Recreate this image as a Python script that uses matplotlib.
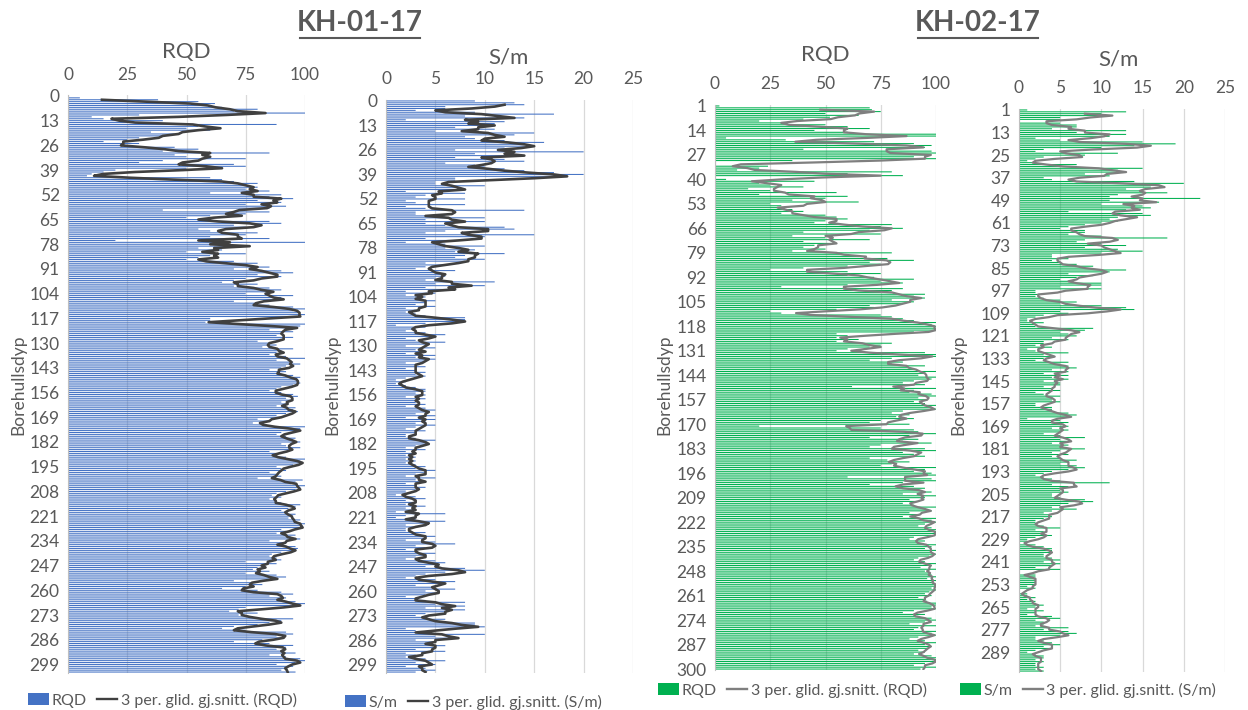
import numpy as np
import pandas as pd
import matplotlib
matplotlib.use("Agg")
import matplotlib.pyplot as plt
from matplotlib.patches import Patch
from matplotlib.lines import Line2D

plt.rcParams['font.family'] = ['Lato', 'DejaVu Sans']

# KH-01-17, depth 0..303
rqd_01 = [
    0, 5, 38, 55, 62, 60, 65, 80, 70, 100,
    30, 10, 15, 40, 30, 88, 55, 50, 60, 35,
    45, 40, 30, 25, 15, 30, 22, 45, 55, 40,
    85, 45, 50, 75, 40, 30, 70, 75, 50, 20,
    15, 10, 8, 60, 65, 70, 80, 75, 80, 75,
    85, 60, 90, 85, 95, 80, 90, 75, 92, 85,
    40, 85, 75, 60, 50, 55, 85, 90, 70, 75,
    55, 60, 80, 75, 60, 85, 20, 100, 60, 70,
    55, 65, 50, 75, 60, 55, 50, 70, 80, 75,
    85, 70, 90, 95, 80, 90, 75, 70, 65, 80,
    70, 85, 90, 85, 75, 95, 90, 88, 70, 80,
    85, 95, 100, 95, 98, 100, 96, 60, 60, 58,
    100, 98, 92, 85, 95, 90, 88, 95, 90, 80,
    85, 88, 82, 95, 90, 88, 85, 92, 100, 88,
    95, 98, 92, 90, 85, 92, 88, 95, 98, 96,
    97, 98, 95, 90, 88, 85, 90, 95, 97, 92,
    95, 90, 93, 88, 96, 95, 97, 92, 88, 90,
    80, 85, 78, 84, 100, 98, 96, 90, 88, 92,
    96, 95, 98, 90, 92, 98, 94, 85, 88, 86,
    92, 100, 98, 99, 95, 88, 90, 92, 85, 88,
    90, 80, 99, 96, 94, 100, 98, 96, 92, 88,
    86, 90, 85, 88, 90, 98, 96, 93, 90, 92,
    96, 95, 93, 98, 96, 100, 99, 98, 90, 92,
    88, 96, 94, 98, 85, 92, 88, 96, 97, 95,
    90, 86, 85, 88, 90, 75, 88, 82, 80, 78,
    85, 75, 88, 92, 85, 70, 78, 82, 75, 65,
    80, 90, 95, 85, 92, 88, 96, 100, 98, 75,
    72, 68, 80, 72, 78, 95, 90, 85, 80, 70,
    65, 75, 92, 95, 88, 90, 82, 70, 85, 95,
    92, 88, 90, 96, 85, 92, 98, 100, 96, 88,
    95, 92, 90, 96,
]

sm_01 = [
    9, 13, 14, 6, 6, 3, 9, 17, 8, 14,
    2, 12, 11, 10, 7, 11, 5, 15, 13, 8,
    9, 12, 16, 14, 15, 12, 7, 20, 9, 13,
    7, 12, 14, 6, 9, 10, 12, 14, 17, 20,
    18, 7, 7, 5, 5, 10, 7, 7, 2, 8,
    4, 3, 8, 2, 3, 8, 2, 4, 14, 3,
    3, 6, 10, 4, 10, 4, 6, 12, 13, 6,
    4, 15, 10, 4, 8, 2, 6, 10, 6, 9,
    7, 12, 8, 7, 10, 8, 4, 6, 4, 3,
    7, 5, 6, 6, 5, 4, 11, 5, 10, 4,
    7, 2, 5, 2, 4, 3, 5, 4, 3, 5,
    2, 3, 2, 3, 4, 8, 8, 8, 4, 1,
    4, 3, 2, 4, 6, 5, 2, 3, 6, 4,
    2, 5, 3, 4, 2, 5, 3, 5, 4, 2,
    3, 4, 2, 3, 4, 3, 4, 2, 1, 2,
    1, 2, 3, 4, 4, 3, 4, 2, 4, 3,
    3, 4, 2, 4, 5, 4, 3, 5, 2, 5,
    4, 3, 5, 3, 2, 4, 3, 2, 2, 3,
    5, 4, 4, 3, 2, 4, 2, 3, 2, 3,
    2, 3, 2, 3, 4, 3, 5, 4, 3, 2,
    5, 3, 4, 2, 3, 4, 3, 2, 2, 1,
    3, 4, 2, 3, 2, 4, 2, 3, 1, 6,
    2, 1, 3, 6, 4, 2, 3, 2, 2, 4,
    3, 5, 4, 2, 5, 7, 3, 4, 2, 3,
    5, 4, 3, 2, 5, 6, 5, 4, 8, 10,
    6, 4, 3, 2, 5, 7, 6, 3, 5, 7,
    4, 5, 4, 2, 3, 4, 8, 5, 8, 4,
    8, 6, 4, 3, 4, 6, 5, 9, 9, 10,
    2, 3, 4, 10, 5, 7, 3, 5, 4, 6,
    5, 3, 6, 2, 3, 2, 4, 6, 3, 5,
    2, 4, 5, 3,
]

# KH-02-17, depth 1..300 (RQD) and 1..299 (S/m)
rqd_02 = [
    2, 70, 71, 75, 50, 65, 52, 40, 20, 30,
    50, 60, 70, 45, 60, 100, 100, 5, 32, 72,
    90, 98, 95, 40, 98, 100, 95, 90, 100, 35,
    0, 0, 24, 20, 10, 80, 60, 85, 0, 5,
    45, 20, 25, 40, 15, 25, 55, 20, 60, 50,
    35, 65, 25, 30, 30, 35, 40, 30, 50, 55,
    60, 50, 45, 80, 75, 85, 70, 40, 75, 35,
    50, 70, 40, 55, 45, 40, 50, 35, 80, 60,
    65, 78, 90, 70, 75, 60, 40, 25, 60, 75,
    60, 72, 90, 75, 85, 60, 30, 85, 80, 75,
    95, 90, 95, 80, 90, 85, 70, 72, 55, 25,
    30, 75, 80, 85, 90, 100, 98, 100, 100, 100,
    90, 55, 60, 55, 65, 55, 80, 75, 70, 60,
    55, 95, 100, 100, 80, 70, 85, 80, 95, 88,
    90, 100, 95, 92, 100, 98, 90, 85, 95, 62,
    100, 90, 88, 98, 100, 92, 96, 90, 95, 100,
    98, 100, 85, 80, 88, 82, 90, 75, 70, 88,
    20, 75, 90, 92, 100, 88, 70, 92, 85, 98,
    75, 70, 95, 100, 85, 90, 95, 70, 78, 88,
    80, 75, 100, 95, 90, 98, 100, 60, 98, 100,
    85, 70, 90, 95, 92, 98, 85, 100, 95, 88,
    92, 85, 90, 100, 95, 98, 88, 92, 85, 100,
    98, 100, 95, 92, 98, 100, 100, 100, 98, 90,
    88, 95, 92, 100, 98, 95, 100, 98, 100, 97,
    92, 90, 95, 100, 98, 93, 100, 95, 97, 98,
    100, 96, 100, 99, 100, 100, 98, 100, 97, 95,
    98, 92, 95, 96, 100, 100, 98, 100, 90, 85,
    95, 92, 98, 100, 95, 88, 100, 92, 90, 100,
    98, 100, 92, 88, 95, 100, 95, 98, 96, 92,
    95, 90, 98, 100, 100, 100, 95, 90, 100, 93,
]

sm_02 = [
    1, 13, 10, 11, 5, 5, 0, 5, 7, 7,
    4, 13, 7, 13, 11, 2, 5, 15, 19, 14,
    10, 3, 2, 12, 8, 3, 2, 1, 2, 7,
    7, 15, 12, 12, 8, 11, 3, 4, 14, 20,
    17, 16, 13, 15, 18, 12, 11, 22, 11, 17,
    10, 15, 16, 13, 6, 15, 16, 12, 11, 12,
    10, 8, 6, 5, 8, 8, 6, 10, 18, 8,
    7, 10, 13, 8, 12, 15, 10, 4, 4, 6,
    4, 5, 7, 9, 8, 13, 11, 6, 9, 7,
    5, 6, 10, 10, 5, 10, 2, 2, 3, 2,
    3, 5, 7, 5, 10, 13, 14, 5, 6, 3,
    2, 1, 1, 3, 2, 2, 9, 8, 5, 6,
    7, 4, 6, 3, 3, 2, 4, 1, 2, 6,
    3, 4, 3, 2, 6, 5, 6, 7, 4, 6,
    3, 6, 4, 6, 3, 5, 5, 3, 4, 5,
    2, 3, 5, 4, 4, 5, 2, 2, 4, 4,
    4, 6, 7, 6, 1, 5, 6, 5, 6, 4,
    6, 5, 3, 5, 8, 5, 6, 4, 6, 5,
    8, 5, 4, 6, 4, 5, 7, 6, 5, 7,
    8, 6, 4, 3, 2, 3, 4, 5, 11, 4,
    6, 5, 5, 6, 4, 4, 5, 8, 9, 6,
    5, 4, 7, 4, 3, 4, 4, 3, 2, 2,
    2, 3, 5, 2, 3, 3, 4, 2, 1, 1,
    0, 2, 3, 4, 4, 4, 3, 3, 4, 5,
    3, 5, 4, 2, 5, 0, 0, 2, 2, 2,
    2, 2, 2, 1, 2, 0, 0, 1, 1, 2,
    1, 2, 2, 3, 2, 1, 3, 2, 1, 4,
    5, 2, 3, 3, 2, 6, 3, 6, 7, 5,
    2, 2, 3, 4, 5, 3, 4, 2, 1, 2,
    3, 3, 2, 3, 2, 2, 3, 2, 3,
]

BLUE = '#4472C4'
GREEN = '#00B050'
GREY_TXT = '#595959'

W, H = 1248, 710
fig = plt.figure(figsize=(W / 100, H / 100), dpi=100)


def rect(x0, x1, y0, y1):
    return [x0 / W, 1 - y1 / H, (x1 - x0) / W, (y1 - y0) / H]


def panel(r, first, vals, xmax, xstep, color, line_color, line_w, tick_every):
    depth = np.arange(first, first + len(vals))
    ax = fig.add_axes(r)
    bars = ax.barh(depth, vals, height=0.55, color=color, linewidth=0)
    for b in bars:
        b.set_snap(False)
    ma = pd.Series(vals).rolling(3).mean()
    ax.plot(ma, depth, color=line_color, lw=line_w)
    ax.set_xlim(0, xmax)
    ax.set_ylim(depth[-1] + 0.5, depth[0] - 0.5)
    ax.set_xticks(np.arange(0, xmax + 1, xstep))
    ax.set_yticks(depth[::tick_every])
    ax.xaxis.tick_top()
    ax.tick_params(axis='both', length=0, labelsize=12.5, labelcolor=GREY_TXT)
    ax.tick_params(axis='x', pad=9)
    ax.tick_params(axis='y', pad=6)
    ax.grid(axis='x', color='#d9d9d9', lw=0.9)
    ax.set_axisbelow(True)
    for s in ('top', 'right', 'bottom'):
        ax.spines[s].set_visible(False)
    ax.spines['left'].set_color('#bfbfbf')
    return ax


panel(rect(68, 305, 95, 673), 0, rqd_01, 100, 25, BLUE, '#404040', 1.9, 13)
panel(rect(386, 633, 100, 673), 0, sm_01, 25, 5, BLUE, '#404040', 1.9, 13)
panel(rect(715, 936, 105, 670), 1, rqd_02, 100, 25, GREEN, '#7f7f7f', 1.6, 13)
panel(rect(1019, 1225, 109, 672), 1, sm_02, 25, 5, GREEN, '#7f7f7f', 1.6, 12)

# borehole titles
for x, name in [(360, 'KH-01-17'), (978, 'KH-02-17')]:
    fig.text(x / W, 1 - 23 / H, name, ha='center', va='center', fontsize=20,
             fontweight='bold', color=GREY_TXT)
    fig.lines.append(Line2D([(x - 60) / W, (x + 60) / W], [1 - 38 / H] * 2,
                            transform=fig.transFigure, color=GREY_TXT, lw=1.5))

# panel headings
for x, y, txt in [(186, 52, 'RQD'), (508, 57, 'S/m'), (825, 55, 'RQD'), (1118, 60, 'S/m')]:
    fig.text(x / W, 1 - y / H, txt, ha='center', va='center', fontsize=16, color=GREY_TXT)

# depth axis labels
for x in (18, 332, 664, 958):
    fig.text(x / W, 1 - 385 / H, 'Borehullsdyp', rotation=90, ha='center', va='center',
             fontsize=12.5, color=GREY_TXT)

# legends
for x, y, color, line_color, name in [
        (28, 700, BLUE, '#404040', 'RQD'),
        (345, 702, BLUE, '#404040', 'S/m'),
        (658, 690, GREEN, '#7f7f7f', 'RQD'),
        (960, 690, GREEN, '#7f7f7f', 'S/m')]:
    handles = [Patch(facecolor=color, edgecolor='none'),
               Line2D([], [], color=line_color, lw=1.7)]
    labels = [name, f'3 per. glid. gj.snitt. ({name})']
    leg = fig.legend(handles, labels, loc='center left', bbox_to_anchor=(x / W, 1 - y / H),
                     ncol=2, frameon=False, fontsize=11.5, handlelength=1.3,
                     handletextpad=0.2, columnspacing=0.6, borderpad=0, borderaxespad=0)
    for t in leg.get_texts():
        t.set_color(GREY_TXT)

fig.savefig('out.png', dpi=100, facecolor='white')
